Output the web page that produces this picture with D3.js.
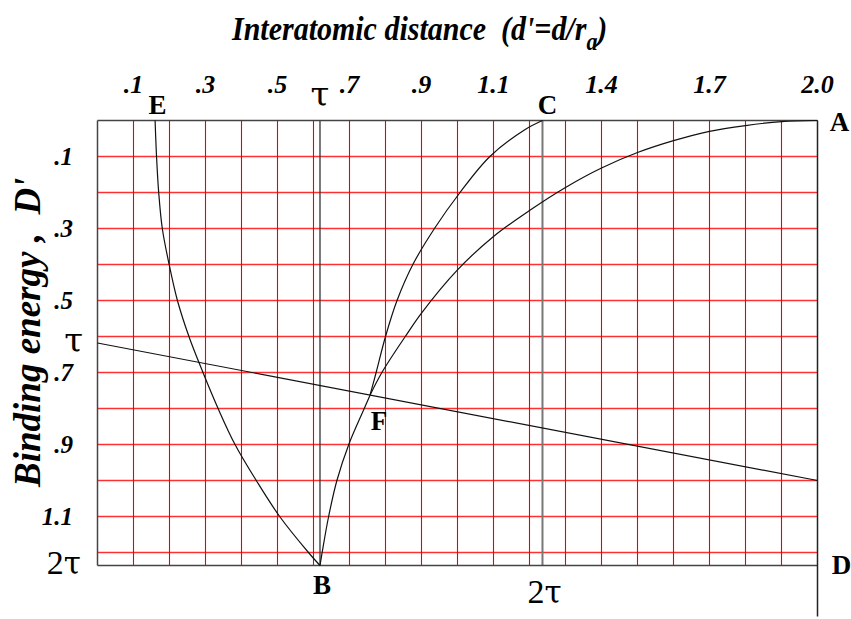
<!DOCTYPE html>
<html>
<head>
<meta charset="utf-8">
<script src="https://cdn.jsdelivr.net/npm/d3@7/dist/d3.min.js"></script>
<style>
  html, body { margin: 0; padding: 0; background: #fff; }
  svg { display: block; }
  text { font-family: "Liberation Serif", "Times New Roman", serif; fill: #000; white-space: pre; }
  .greek { font-family: "DejaVu Serif", serif; }
</style>
</head>
<body>
<svg id="chart" width="851" height="619"></svg>
<script>
// Golden ratio constant used for the special distances and energies
const TAU = (Math.sqrt(5) - 1) / 2;

// Grid positions (reduced distance d' and reduced binding energy D')
const gridX = [0.1, 0.2, 0.3, 0.4, 0.5, 0.6, 0.7, 0.8, 0.9, 1.0, 1.1, 1.2, 1.3, 1.4, 1.5, 1.6, 1.7, 1.8, 1.9];
const gridY = [0.1, 0.2, 0.3, 0.4, 0.5, 0.6, 0.7, 0.8, 0.9, 1.0, 1.1, 1.2];

// Tick labels along the top (distance) and left (energy)
const xTickValues = [0.1, 0.3, 0.5, 0.7, 0.9, 1.1, 1.4, 1.7, 2.0];
const xTickLabels = [".1", ".3", ".5", ".7", ".9", "1.1", "1.4", "1.7", "2.0"];
const yTickValues = [0.1, 0.3, 0.5, 0.7, 0.9, 1.1];
const yTickLabels = [".1", ".3", ".5", ".7", ".9", "1.1"];

// Curve E -> B (repulsive branch)
const curveEB = [
  [0.160, 0.000], [0.164, 0.100], [0.170, 0.200], [0.180, 0.300], [0.199, 0.400],
  [0.222, 0.500], [0.254, 0.600], [0.293, 0.700], [0.335, 0.800], [0.382, 0.900],
  [0.441, 1.000], [0.506, 1.100], [0.586, 1.200], [TAU, 2 * TAU]
];
// Curve B -> F
const curveBF = [
  [TAU, 2 * TAU], [0.624, 1.200], [0.642, 1.100], [0.665, 1.000], [0.698, 0.900],
  [0.741, 0.800], [0.757, 0.763]
];
// Curve F -> C (steep branch)
const curveFC = [
  [0.757, 0.763], [0.774, 0.700], [0.800, 0.600], [0.832, 0.500], [0.876, 0.400],
  [0.936, 0.300], [1.007, 0.200], [1.090, 0.100], [1.188, 0.025], [2 * TAU, 0.000]
];
// Curve F -> A (shallow branch)
const curveFA = [
  [0.757, 0.763], [0.790, 0.700], [0.855, 0.600], [0.900, 0.535], [1.000, 0.415],
  [1.100, 0.322], [1.200, 0.250], [1.300, 0.186], [1.400, 0.132], [1.500, 0.089],
  [1.600, 0.056], [1.700, 0.030], [1.800, 0.014], [1.900, 0.003], [2.000, 0.000]
];
// Straight line from (0, tau) to (2, 1)
const lineTD = [[0, TAU], [2.0, 1.0]];

// Point labels
const pointLabels = [
  { name: "E", x: 0.167, y: 0.0, dx: 0, dy: -7 },
  { name: "C", x: 2 * TAU, y: 0.0, dx: 5, dy: -7 },
  { name: "A", x: 2.0, y: 0.0, dx: 22, dy: 10 },
  { name: "B", x: TAU, y: 2 * TAU, dx: 2, dy: 29 },
  { name: "D", x: 2.0, y: 2 * TAU, dx: 24, dy: 9 },
  { name: "F", x: 0.757, y: 0.763, dx: 9, dy: 35 }
];

const svg = d3.select("#chart");
const x = d3.scaleLinear().domain([0, 2]).range([97.5, 817.5]);
const y = d3.scaleLinear().domain([0, 2 * TAU]).range([120.5, 120.5 + 720 * TAU]);
const x0 = x(0), x1 = x(2), y0 = y(0), y1 = y(2 * TAU);

// Red grid
svg.append("g").selectAll("line").data(gridY).join("line")
  .attr("x1", x0).attr("x2", x1)
  .attr("y1", d => y(d)).attr("y2", d => y(d))
  .attr("stroke", "#ff3030").attr("stroke-width", 1.6);
svg.append("g").selectAll("line").data(gridX).join("line")
  .attr("x1", d => x(d)).attr("x2", d => x(d))
  .attr("y1", y0).attr("y2", y1)
  .attr("stroke", "#ee0000").attr("stroke-width", 1.1);

// Special verticals at tau and 2 tau
svg.append("line").attr("x1", x(TAU)).attr("x2", x(TAU)).attr("y1", y0).attr("y2", y1)
  .attr("stroke", "#333").attr("stroke-width", 1.3);
svg.append("line").attr("x1", x(2 * TAU)).attr("x2", x(2 * TAU)).attr("y1", y0).attr("y2", y1)
  .attr("stroke", "#777").attr("stroke-width", 2);

// Frame
const frame = svg.append("g").attr("stroke", "#444").attr("stroke-width", 1.5).attr("fill", "none");
frame.append("line").attr("x1", x0).attr("x2", x1).attr("y1", y0).attr("y2", y0);
frame.append("line").attr("x1", x0).attr("x2", x1).attr("y1", y1).attr("y2", y1);
frame.append("line").attr("x1", x0).attr("x2", x0).attr("y1", y0).attr("y2", y1);
frame.append("line").attr("x1", x1).attr("x2", x1).attr("y1", y0).attr("y2", y1 + 51).attr("stroke", "#222");

// Curves
const line = d3.line().x(d => x(d[0])).y(d => y(d[1])).curve(d3.curveCatmullRom.alpha(0.5));
const curves = svg.append("g").attr("fill", "none").attr("stroke", "#111").attr("stroke-width", 1.2);
[curveEB, curveBF, curveFC, curveFA].forEach(c => curves.append("path").attr("d", line(c)));
curves.append("path").attr("d", d3.line().x(d => x(d[0])).y(d => y(d[1]))(lineTD));

// Top tick labels
svg.append("g").selectAll("text").data(xTickValues).join("text")
  .attr("x", d => x(d)).attr("y", 93)
  .attr("text-anchor", "middle")
  .attr("font-size", 26).attr("font-weight", "bold").attr("font-style", "italic")
  .text((d, i) => xTickLabels[i]);
svg.append("text").attr("class", "greek").attr("x", x(TAU)).attr("y", 106).attr("text-anchor", "middle")
  .attr("font-size", 34).text("τ");

// Left tick labels
svg.append("g").selectAll("text").data(yTickValues).join("text")
  .attr("x", 73).attr("y", d => y(d)).attr("dy", "0.33em")
  .attr("text-anchor", "end")
  .attr("font-size", 25).attr("font-weight", "bold").attr("font-style", "italic")
  .text((d, i) => yTickLabels[i]);
svg.append("text").attr("class", "greek").attr("x", 83).attr("y", y(TAU) + 9).attr("text-anchor", "end")
  .attr("font-size", 34).text("τ");

// "2τ" labels at the bottom of the energy axis and under the 2τ distance line
function twoTau(xPos, yPos, anchor) {
  const t = svg.append("text").attr("x", xPos).attr("y", yPos).attr("text-anchor", anchor)
    .attr("font-size", 34);
  t.append("tspan").text("2");
  t.append("tspan").attr("class", "greek").attr("font-size", 31).text("τ");
}
twoTau(81, y(2 * TAU) + 9, "end");
twoTau(x(2 * TAU) + 2, 603, "middle");

// Point labels
svg.append("g").selectAll("text").data(pointLabels).join("text")
  .attr("x", d => x(d.x) + d.dx).attr("y", d => y(d.y) + d.dy)
  .attr("text-anchor", "middle")
  .attr("font-size", 27).attr("font-weight", "bold")
  .text(d => d.name);

// Axis titles
const title = svg.append("text").attr("transform", "translate(232,40) scale(1,1.1)")
  .attr("font-size", 30).attr("font-weight", "bold").attr("font-style", "italic");
title.append("tspan").text("Interatomic distance  (d'=d/r");
title.append("tspan").attr("font-size", 22).attr("dy", 9).text("a");
title.append("tspan").attr("dy", -9).text(")");

svg.append("text")
  .attr("transform", "translate(40,487) rotate(-90)")
  .attr("font-size", 37).attr("font-weight", "bold").attr("font-style", "italic")
  .text("Binding energy ,  D'");
</script>
</body>
</html>
